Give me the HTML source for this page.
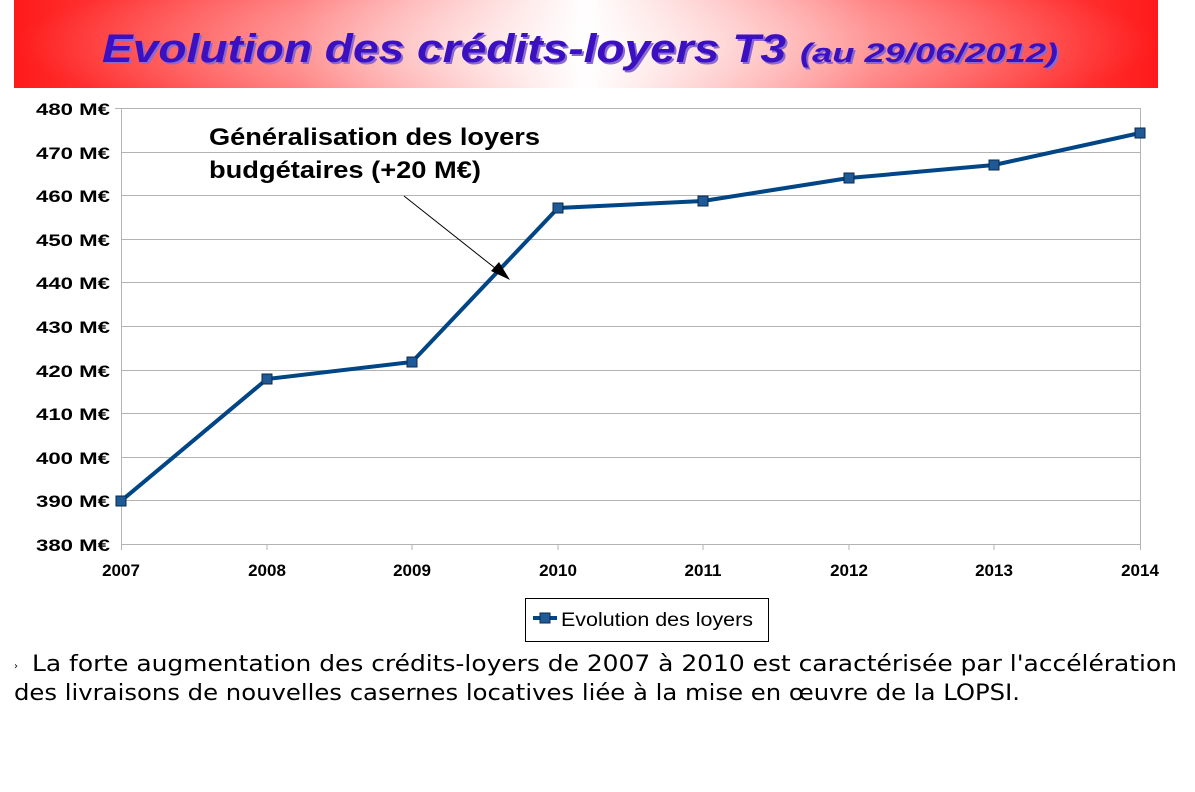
<!DOCTYPE html>
<html><head><meta charset="utf-8"><style>
body{margin:0;width:1195px;height:792px;background:#fff;overflow:hidden}
svg{display:block}
</style></head><body>
<svg width="1195" height="792" xmlns="http://www.w3.org/2000/svg" font-family="Liberation Sans, DejaVu Sans, sans-serif">
<defs>
<linearGradient id="bg" x1="0" x2="1" y1="0" y2="0">
<stop offset="0" stop-color="#ff1a1a"/>
<stop offset="0.25" stop-color="#ff6a6a"/>
<stop offset="0.5" stop-color="#ffffff"/>
<stop offset="0.75" stop-color="#ff6a6a"/>
<stop offset="1" stop-color="#ff1a1a"/>
</linearGradient>
<radialGradient id="rg" cx="0.5" cy="0.5" r="0.5" gradientTransform="translate(0.5,0.5) scale(1,2) translate(-0.5,-0.5)">
<stop offset="0" stop-color="#fff" stop-opacity="0.6"/>
<stop offset="1" stop-color="#fff" stop-opacity="0"/>
</radialGradient>
</defs>
<rect x="14" y="0" width="1144" height="88" fill="url(#bg)"/>
<rect x="14" y="0" width="1144" height="88" fill="url(#rg)"/>
<g font-weight="bold" font-style="italic">
<text x="104" y="64" font-size="40" fill="#8a6ad0" textLength="684" lengthAdjust="spacingAndGlyphs">Evolution des crédits-loyers T3</text>
<text x="802" y="64" font-size="27" fill="#8a6ad0" textLength="258" lengthAdjust="spacingAndGlyphs">(au 29/06/2012)</text>
<text x="102" y="62" font-size="40" fill="#3b10c0" textLength="684" lengthAdjust="spacingAndGlyphs">Evolution des crédits-loyers T3</text>
<text x="800" y="62" font-size="27" fill="#3b10c0" textLength="258" lengthAdjust="spacingAndGlyphs">(au 29/06/2012)</text>
</g>
<g stroke="#b3b3b3" stroke-width="1">
<line x1="121" x2="1140" y1="108.5" y2="108.5"/><line x1="121" x2="1140" y1="152.5" y2="152.5"/>
<line x1="121" x2="1140" y1="195.5" y2="195.5"/><line x1="121" x2="1140" y1="239.5" y2="239.5"/>
<line x1="121" x2="1140" y1="282.5" y2="282.5"/><line x1="121" x2="1140" y1="326.5" y2="326.5"/>
<line x1="121" x2="1140" y1="370.5" y2="370.5"/><line x1="121" x2="1140" y1="413.5" y2="413.5"/>
<line x1="121" x2="1140" y1="457.5" y2="457.5"/><line x1="121" x2="1140" y1="500.5" y2="500.5"/>
<line x1="121" x2="1140" y1="544.5" y2="544.5"/>
<line x1="121.5" x2="121.5" y1="108" y2="550"/><line x1="1140.5" x2="1140.5" y1="108" y2="550"/>
<line x1="267" x2="267" y1="544" y2="550"/><line x1="412" x2="412" y1="544" y2="550"/><line x1="558" x2="558" y1="544" y2="550"/><line x1="703" x2="703" y1="544" y2="550"/><line x1="849" x2="849" y1="544" y2="550"/><line x1="994" x2="994" y1="544" y2="550"/>
<line x1="115" x2="121" y1="108.5" y2="108.5"/>
</g>
<g font-size="17" font-weight="bold" fill="#000">
<text x="36" y="115" textLength="74" lengthAdjust="spacingAndGlyphs">480 M€</text><text x="36" y="159" textLength="74" lengthAdjust="spacingAndGlyphs">470 M€</text><text x="36" y="202" textLength="74" lengthAdjust="spacingAndGlyphs">460 M€</text><text x="36" y="246" textLength="74" lengthAdjust="spacingAndGlyphs">450 M€</text><text x="36" y="289" textLength="74" lengthAdjust="spacingAndGlyphs">440 M€</text><text x="36" y="333" textLength="74" lengthAdjust="spacingAndGlyphs">430 M€</text><text x="36" y="377" textLength="74" lengthAdjust="spacingAndGlyphs">420 M€</text><text x="36" y="420" textLength="74" lengthAdjust="spacingAndGlyphs">410 M€</text><text x="36" y="464" textLength="74" lengthAdjust="spacingAndGlyphs">400 M€</text><text x="36" y="507" textLength="74" lengthAdjust="spacingAndGlyphs">390 M€</text><text x="36" y="551" textLength="74" lengthAdjust="spacingAndGlyphs">380 M€</text>
</g>
<g font-size="17" font-weight="bold" fill="#000" text-anchor="middle">
<text x="121" y="576">2007</text><text x="267" y="576">2008</text><text x="412" y="576">2009</text><text x="558" y="576">2010</text><text x="703" y="576">2011</text><text x="849" y="576">2012</text><text x="994" y="576">2013</text><text x="1140" y="576">2014</text>
</g>
<polyline points="121,501 267,379 412,362 558,208 703,201 849,178 994,165 1140,133" fill="none" stroke="#004586" stroke-width="4"/>
<g fill="#1f5a96" stroke="#0a2a4a" stroke-width="1">
<rect x="116" y="496" width="10" height="10"/><rect x="262" y="374" width="10" height="10"/><rect x="407" y="357" width="10" height="10"/><rect x="553" y="203" width="10" height="10"/><rect x="698" y="196" width="10" height="10"/><rect x="844" y="173" width="10" height="10"/><rect x="989" y="160" width="10" height="10"/><rect x="1135" y="128" width="10" height="10"/>
</g>
<line x1="404" y1="196" x2="500" y2="272" stroke="#000" stroke-width="1"/>
<polygon points="510,280 491,271 499,262" fill="#000"/>
<text x="209" y="145" font-size="24" font-weight="bold" textLength="331" lengthAdjust="spacingAndGlyphs">Généralisation des loyers</text>
<text x="209" y="178" font-size="24" font-weight="bold" textLength="272" lengthAdjust="spacingAndGlyphs">budgétaires (+20 M€)</text>
<rect x="525.5" y="598.5" width="243" height="43" fill="#fff" stroke="#000"/>
<line x1="533" x2="557" y1="618" y2="618" stroke="#004586" stroke-width="4"/>
<rect x="540" y="613" width="10" height="10" fill="#1f5a96" stroke="#0a2a4a"/>
<text x="561" y="626" font-size="19" textLength="192" lengthAdjust="spacingAndGlyphs">Evolution des loyers</text>
<g font-family="DejaVu Sans, sans-serif" font-size="22" fill="#000">
<text x="14" y="669" font-size="10">›</text>
<text x="32" y="671" textLength="1145" lengthAdjust="spacingAndGlyphs">La forte augmentation des crédits-loyers de 2007 à 2010 est caractérisée par l'accélération</text>
<text x="14" y="700" textLength="1006" lengthAdjust="spacingAndGlyphs">des livraisons de nouvelles casernes locatives liée à la mise en œuvre de la LOPSI.</text>
</g>
</svg>
</body></html>
